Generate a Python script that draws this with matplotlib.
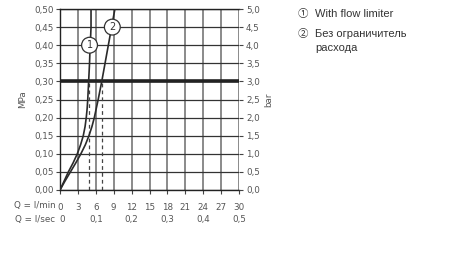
import matplotlib.pyplot as plt
import numpy as np

# data (flow in l/min, pressure in MPa)
q_limiter = [0, 0.7, 1.4, 2.2, 2.9, 3.45, 3.9, 4.2, 4.4, 4.55, 4.65, 4.8, 4.95, 5.05, 5.15, 5.2, 5.2]
p_limiter = [0, 0.025, 0.05, 0.075, 0.10, 0.125, 0.15, 0.175, 0.20, 0.225, 0.25, 0.30, 0.35, 0.40, 0.43, 0.45, 0.50]
q_free = [0, 0.85, 1.75, 2.65, 3.5, 4.25, 4.85, 5.35, 5.75, 6.4, 7.0, 7.55, 8.1, 8.65, 9.2]
p_free = [0, 0.025, 0.05, 0.075, 0.10, 0.125, 0.15, 0.175, 0.20, 0.25, 0.30, 0.35, 0.40, 0.45, 0.50]
dash_q = [4.9, 7.0]
ref_pressure = 0.30

lmin_ticks = list(range(0, 31, 3))
lsec_labels = ['0', '0,1', '0,2', '0,3', '0,4', '0,5']
mpa_ticks = np.round(np.arange(0, 0.51, 0.05), 2)

plt.rcParams['font.family'] = ['DejaVu Sans']
txt_color = '#555555'
fs = 6.3

fig = plt.figure(figsize=(4.5, 2.62), dpi=100)
ax = fig.add_axes([60 / 450, 1 - 190 / 262, 179 / 450, 181 / 262])

# grid
for q in lmin_ticks:
    ax.axvline(q, color='#8a8a8a', lw=1.4, zorder=1)
for p in mpa_ticks:
    ax.axhline(p, color='#333333', lw=0.9, zorder=1)
ax.axhline(ref_pressure, color='#222222', lw=2.6, zorder=3)

# curves
ax.plot(q_limiter, p_limiter, color='#2a2a2a', lw=1.2, zorder=4)
ax.plot(q_free, p_free, color='#2a2a2a', lw=1.2, zorder=4)
for q in dash_q:
    ax.plot([q, q], [0, ref_pressure], color='#444444', lw=0.9, ls=(0, (3, 2.5)), zorder=2)

# circle labels
ax.text(4.95, 0.40, '1', ha='center', va='center', fontsize=7, color='#333333', zorder=5,
        bbox=dict(boxstyle='circle,pad=0.3', fc='white', ec='#333333', lw=0.9))
ax.text(8.77, 0.45, '2', ha='center', va='center', fontsize=7, color='#333333', zorder=5,
        bbox=dict(boxstyle='circle,pad=0.3', fc='white', ec='#333333', lw=0.9))

ax.set_xlim(0, 30)
ax.set_ylim(0, 0.5)

for s in ['left', 'bottom', 'top']:
    ax.spines[s].set_color('#222222')
    ax.spines[s].set_linewidth(1.0)
ax.spines['right'].set_visible(False)

ax.set_yticks(mpa_ticks)
ax.set_yticklabels([f'{v:.2f}'.replace('.', ',') for v in mpa_ticks])
ax.set_xticks(lmin_ticks)
ax.set_xticklabels([str(v) for v in lmin_ticks])
ax.tick_params(axis='y', length=3, width=0.8, pad=1.5, labelsize=fs, labelcolor=txt_color, color='#444444')
ax.tick_params(axis='x', length=3, width=0.8, pad=6.5, labelsize=fs, labelcolor=txt_color, color='#444444')
ax.set_ylabel('MPa', fontsize=fs, color=txt_color, labelpad=5)

# right axis in bar
ax2 = ax.twinx()
ax2.set_ylim(0, 5.0)
bar_ticks = np.arange(0, 5.01, 0.5)
ax2.set_yticks(bar_ticks)
ax2.set_yticklabels([f'{v:.1f}'.replace('.', ',') for v in bar_ticks])
ax2.tick_params(axis='y', length=3, width=0.8, pad=2, labelsize=fs, labelcolor=txt_color, color='#444444')
for s in ax2.spines.values():
    s.set_visible(False)
ax2.set_ylabel('bar', fontsize=fs, color=txt_color, labelpad=3)

# row labels and l/sec row
trans = ax.get_xaxis_transform()
ax.text(-0.025, -0.088, 'Q = l/min', transform=ax.transAxes, ha='right', va='center',
        fontsize=fs, color=txt_color)
ax.text(-0.025, -0.163, 'Q = l/sec', transform=ax.transAxes, ha='right', va='center',
        fontsize=fs, color=txt_color)
for i, lab in enumerate(lsec_labels):
    ax.text(i * 6 + (0.3 if i == 0 else 0), -0.163, lab, transform=trans, ha='center', va='center',
            fontsize=fs, color=txt_color)

# legend text
leg_font = ['Liberation Sans', 'Noto Sans CJK SC', 'DejaVu Sans']
fig.text(303 / 450, 1 - 14 / 262, '\u2460', ha='center', va='center', fontsize=7.5,
         color='#333333', family=leg_font)
fig.text(315 / 450, 1 - 14 / 262, 'With flow limiter', ha='left', va='center', fontsize=8,
         color='#333333', family=leg_font)
fig.text(303 / 450, 1 - 34 / 262, '\u2461', ha='center', va='center', fontsize=7.5,
         color='#333333', family=leg_font)
fig.text(315 / 450, 1 - 34 / 262, 'Без ограничитель', ha='left', va='center', fontsize=8,
         color='#333333', family=leg_font)
fig.text(315 / 450, 1 - 48 / 262, 'расхода', ha='left', va='center', fontsize=8,
         color='#333333', family=leg_font)

plt.savefig('out.png', dpi=100)
